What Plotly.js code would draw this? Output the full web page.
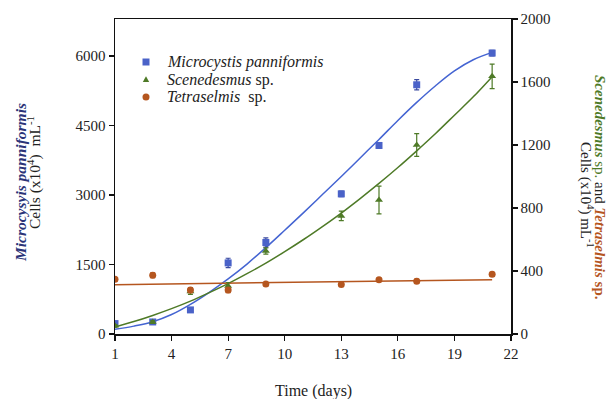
<!DOCTYPE html>
<html>
<head>
<meta charset="utf-8">
<script src="https://cdn.plot.ly/plotly-3.0.1.min.js"></script>
<style>html,body{margin:0;padding:0;background:#fff;}#chart{width:611px;height:399px;}</style>
</head>
<body>
<div id="chart"></div>
<script>
// Sampling days
const days = [1, 3, 5, 7, 9, 13, 15, 17, 21];
// Microcystis panniformis (left axis)
const micro = [225, 260, 520, 1535, 1975, 3025, 4070, 5380, 6065];
const microErr = [40, 30, 30, 100, 100, 60, 60, 110, 60];
// Scenedesmus sp. (right axis)
const scen = [52, 76, 270, 305, 527, 750, 851, 1200, 1636];
const scenErr = [8, 8, 18, 22, 20, 30, 88, 72, 78];
// Tetraselmis sp. (right axis)
const tetra = [347, 373, 279, 279, 317, 315, 345, 335, 379];
const tetraErr = [10, 16, 16, 16, 10, 13, 10, 13, 12];

// Trend lines
const fitDays = [1,2,3,4,5,6,7,8,9,10,11,12,13,14,15,16,17,18,19,20,21];
const microFit = [100,170,265,420,640,900,1190,1510,1865,2240,2620,3010,3400,3800,4200,4610,5000,5360,5680,5920,6080];
const scenFit = [45,79,118,161,209,263,320,383,450,523,600,682,768,860,956,1057,1163,1273,1389,1506,1634];
const tetraFitDays = [1, 21];
const tetraFit = [313, 345];

// Legend labels
const seriesNames = ['<i>Microcystis panniformis</i>', '<i>Scenedesmus</i> sp.', '<i>Tetraselmis</i>&nbsp; sp.'];

// Axis ticks
const xTicks = [1, 4, 7, 10, 13, 16, 19, 22];
const yLeftTicks = [0, 1500, 3000, 4500, 6000];
const yRightTicks = [0, 400, 800, 1200, 1600, 2000];

const cBlue = '#4a62c8', cBlueLine = '#4464d2', cGreen = '#4e7a27', cOrange = '#b5561f', cNavy = '#2b3478';

const traces = [
  {x: fitDays, y: microFit, mode: 'lines', line: {color: cBlueLine, width: 1.5, shape: 'spline'}, showlegend: false, hoverinfo: 'skip', yaxis: 'y'},
  {x: days, y: micro, mode: 'markers', name: seriesNames[0], showlegend: false,
   marker: {symbol: 'square', size: 7, color: cBlue},
   error_y: {type: 'data', array: microErr, color: '#3a4aa0', thickness: 1.2, width: 2.5}, yaxis: 'y'},
  {x: fitDays, y: scenFit, mode: 'lines', line: {color: cGreen, width: 1.5, shape: 'spline'}, showlegend: false, hoverinfo: 'skip', yaxis: 'y2'},
  {x: tetraFitDays, y: tetraFit, mode: 'lines', line: {color: cOrange, width: 1.5}, showlegend: false, hoverinfo: 'skip', yaxis: 'y2'},
  {x: days, y: scen, mode: 'markers', name: seriesNames[1], showlegend: false,
   marker: {symbol: 'triangle-up', size: 7, color: cGreen},
   error_y: {type: 'data', array: scenErr, color: cGreen, thickness: 1.2, width: 2.5}, yaxis: 'y2'},
  {x: days, y: tetra, mode: 'markers', name: seriesNames[2], showlegend: false,
   marker: {symbol: 'circle', size: 7, color: cOrange},
   error_y: {type: 'data', array: tetraErr, color: cOrange, thickness: 1.2, width: 2.5}, yaxis: 'y2'}
];

const font = {family: 'Liberation Serif, Times New Roman, serif', size: 15, color: '#222'};
const legFont = {family: font.family, size: 16, color: '#222'};

// legend built from shapes + annotations (tight row spacing like the reference)
const legX = (146 - 115) / 396;
const legTextX = (166 - 115) / 396;
const legRowsY = [(334 - 62) / 315, (334 - 79.5) / 315, (334 - 97) / 315];

const shapes = [
  {type: 'rect', xref: 'paper', yref: 'paper', xsizemode: 'pixel', ysizemode: 'pixel',
   xanchor: legX, yanchor: legRowsY[0], x0: -3.5, x1: 3.5, y0: -3.5, y1: 3.5,
   fillcolor: cBlue, line: {width: 0}},
  {type: 'path', xref: 'paper', yref: 'paper', xsizemode: 'pixel', ysizemode: 'pixel',
   xanchor: legX, yanchor: legRowsY[1], path: 'M -3.2 -2.6 L 3.2 -2.6 L 0 3.2 Z',
   fillcolor: cGreen, line: {width: 0}},
  {type: 'circle', xref: 'paper', yref: 'paper', xsizemode: 'pixel', ysizemode: 'pixel',
   xanchor: legX, yanchor: legRowsY[2], x0: -3.5, x1: 3.5, y0: -3.5, y1: 3.5,
   fillcolor: cOrange, line: {width: 0}}
];

const legendAnns = seriesNames.map((n, i) => ({
  text: n, xref: 'paper', yref: 'paper', x: legTextX, y: legRowsY[i],
  xanchor: 'left', yanchor: 'middle', showarrow: false, font: legFont, borderpad: 0
}));

const layout = {
  width: 611, height: 399,
  margin: {l: 115, r: 100, t: 19, b: 65},
  paper_bgcolor: '#fff', plot_bgcolor: '#fff',
  font: font,
  showlegend: false,
  xaxis: {range: [1, 22], tickvals: xTicks, ticks: 'outside', ticklen: 5, tickwidth: 1.2, tickcolor: '#111',
          showline: true, linecolor: '#111', linewidth: 1.5, mirror: true, showgrid: false, zeroline: false,
          tickfont: font},
  yaxis: {range: [0, 6800], tickvals: yLeftTicks, ticks: 'outside', ticklen: 5, tickwidth: 1.2, tickcolor: '#111',
          showline: true, linecolor: '#111', linewidth: 1.5, showgrid: false, zeroline: false, tickfont: font},
  yaxis2: {range: [0, 2000], tickvals: yRightTicks, overlaying: 'y', side: 'right', ticks: 'outside', ticklen: 5,
           tickwidth: 1.2, tickcolor: '#111', showline: true, linecolor: '#111', linewidth: 1.5,
           showgrid: false, zeroline: false, tickfont: font},
  shapes: shapes,
  annotations: legendAnns.concat([
    {text: '<b><i>Microcysyis panniformis</i></b>', xref: 'paper', yref: 'paper', x: -0.2399, y: 0.4825,
     textangle: -90, showarrow: false, xanchor: 'center', yanchor: 'middle',
     font: {family: font.family, size: 15.5, color: cNavy}},
    {text: 'Cells (x10<sup>4</sup>)  mL<sup>-1</sup>', xref: 'paper', yref: 'paper', x: -0.2045, y: 0.511,
     textangle: -90, showarrow: false, xanchor: 'center', yanchor: 'middle',
     font: {family: font.family, size: 15.5, color: '#222'}},
    {text: '<span style="color:' + cGreen + '"><b><i>Scenedesmus</i></b> sp.</span> and <span style="color:' + cOrange + '"><b><i>Tetraselmis</i> sp.</b></span>',
     xref: 'paper', yref: 'paper', x: 1.2247, y: 0.4635,
     textangle: 90, showarrow: false, xanchor: 'center', yanchor: 'middle',
     font: {family: font.family, size: 15, color: '#222'}},
    {text: 'Cells (x10<sup>4</sup>) mL<sup>-1</sup>', xref: 'paper', yref: 'paper', x: 1.192, y: 0.441,
     textangle: 90, showarrow: false, xanchor: 'center', yanchor: 'middle',
     font: {family: font.family, size: 15, color: '#222'}},
    {text: 'Time (days)', xref: 'paper', yref: 'paper', x: 0.5, y: -0.18,
     showarrow: false, xanchor: 'center', yanchor: 'middle',
     font: {family: font.family, size: 16, color: '#222'}}
  ])
};

Plotly.newPlot('chart', traces, layout, {staticPlot: true, displayModeBar: false});
</script>
</body>
</html>
